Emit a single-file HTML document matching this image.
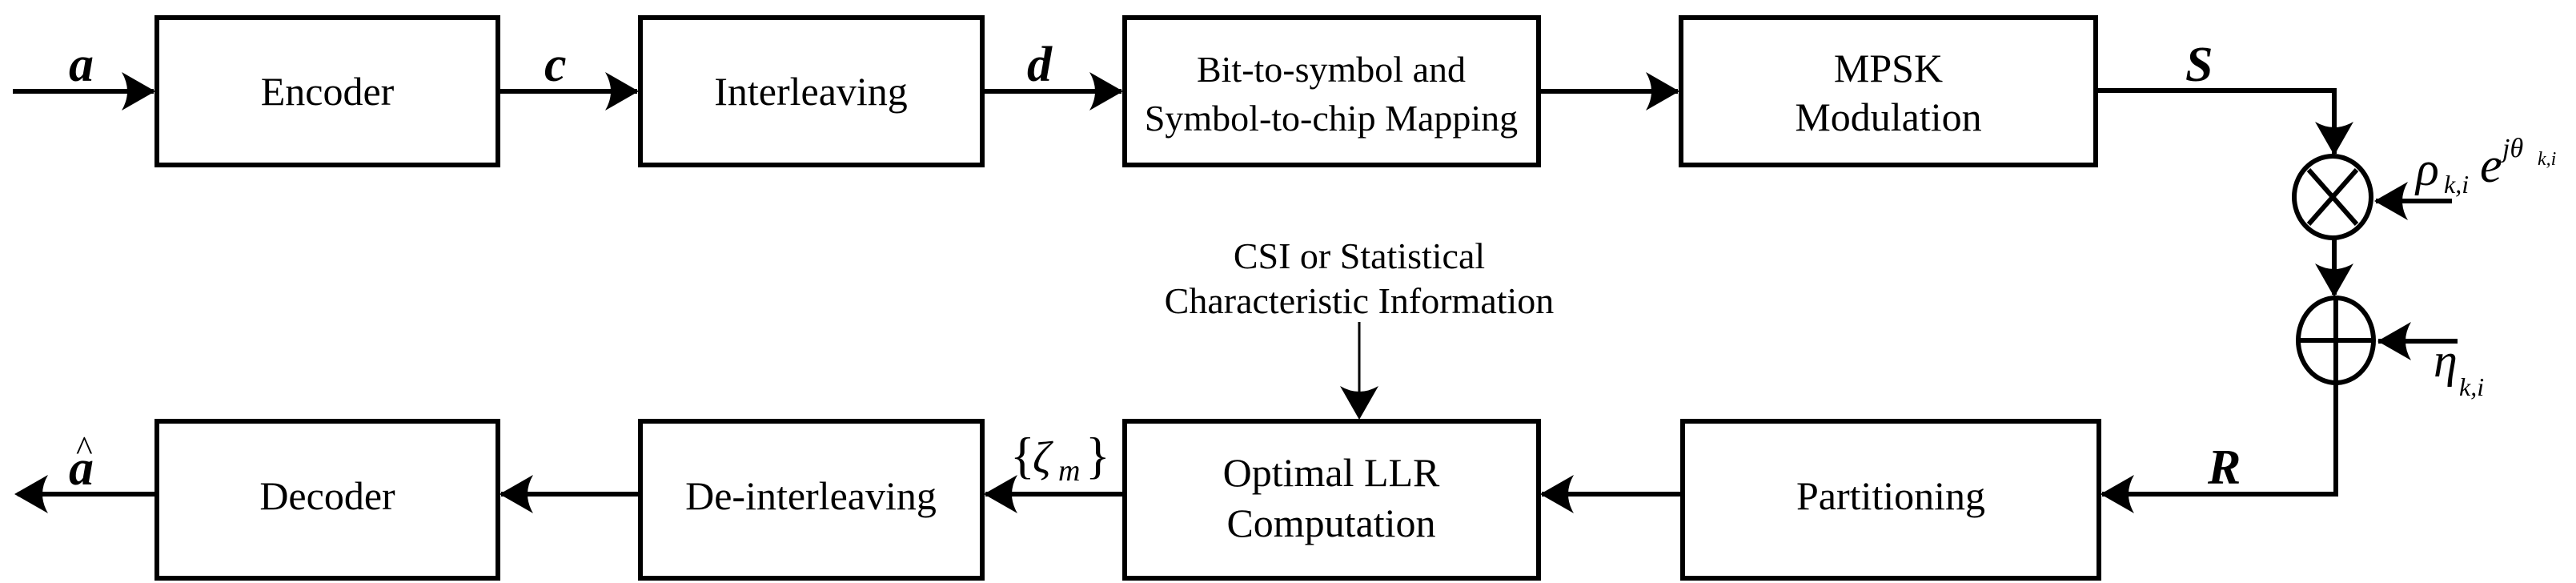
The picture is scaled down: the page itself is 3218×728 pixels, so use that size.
<!DOCTYPE html>
<html><head><meta charset="utf-8"><style>html,body{margin:0;padding:0;background:#fff}svg{display:block}</style></head>
<body>
<svg width="3218" height="728" viewBox="0 0 3218 728" xmlns="http://www.w3.org/2000/svg" font-family="'Liberation Serif', serif">
<defs>
<path id="ah" d="M0,0 L-42,-24 Q-28,0 -42,24 Z" fill="#000"/>
</defs>
<g fill="none" stroke="#000" stroke-width="6">
<rect x="196" y="22" width="426" height="184"/>
<rect x="800" y="22" width="427" height="184"/>
<rect x="1405" y="22" width="517" height="184"/>
<rect x="2100" y="22" width="518" height="184"/>
<rect x="196" y="526" width="426" height="196"/>
<rect x="800" y="526" width="427" height="196"/>
<rect x="1405" y="526" width="517" height="196"/>
<rect x="2102" y="526" width="520" height="196"/>
<!-- top connectors -->
<line x1="16" y1="114" x2="192" y2="114"/>
<line x1="622" y1="114" x2="796" y2="114"/>
<line x1="1227" y1="114" x2="1401" y2="114"/>
<line x1="1922" y1="114" x2="2096" y2="114"/>
<path d="M2618,113 H2916 V192"/>
<line x1="2916" y1="298" x2="2916" y2="368"/>
<path d="M2918,480 V617 H2626"/>
<line x1="2102" y1="617" x2="1926" y2="617"/>
<line x1="1405" y1="617" x2="1231" y2="617"/>
<line x1="800" y1="617" x2="626" y2="617"/>
<line x1="196" y1="617" x2="22" y2="617"/>
<line x1="3063" y1="251" x2="2968" y2="251"/>
<line x1="3070" y1="426" x2="2971" y2="426"/>
<!-- circles -->
<ellipse cx="2914" cy="246" rx="48" ry="51"/>
<line x1="2884" y1="212" x2="2944" y2="280"/>
<line x1="2944" y1="212" x2="2884" y2="280"/>
<ellipse cx="2918" cy="425" rx="47" ry="53"/>
<line x1="2918" y1="375" x2="2918" y2="475"/>
<line x1="2873" y1="425" x2="2963" y2="425"/>
</g>
<line x1="1698" y1="402" x2="1698" y2="500" stroke="#000" stroke-width="3"/>
<!-- arrowheads -->
<use href="#ah" transform="translate(194,114)"/>
<use href="#ah" transform="translate(798,114)"/>
<use href="#ah" transform="translate(1403,114)"/>
<use href="#ah" transform="translate(2098,114)"/>
<use href="#ah" transform="translate(2916,194) rotate(90)"/>
<use href="#ah" transform="translate(2916,371) rotate(90)"/>
<use href="#ah" transform="translate(2966,251) rotate(180)"/>
<use href="#ah" transform="translate(2970,426) rotate(180)"/>
<use href="#ah" transform="translate(2624,617) rotate(180)"/>
<use href="#ah" transform="translate(1924,617) rotate(180)"/>
<use href="#ah" transform="translate(1229,617) rotate(180)"/>
<use href="#ah" transform="translate(624,617) rotate(180)"/>
<use href="#ah" transform="translate(18,617) rotate(180)"/>
<use href="#ah" transform="translate(1698,524) rotate(90)"/>
<!-- box text -->
<g font-size="50" text-anchor="middle" fill="#000">
<text x="409" y="131">Encoder</text>
<text x="1013" y="131">Interleaving</text>
<text x="1663" y="102" font-size="46">Bit-to-symbol and</text>
<text x="1663" y="163" font-size="46">Symbol-to-chip Mapping</text>
<text x="2359" y="102">MPSK</text>
<text x="2359" y="163">Modulation</text>
<text x="409" y="636">Decoder</text>
<text x="1013" y="636">De-interleaving</text>
<text x="1663" y="607">Optimal LLR</text>
<text x="1663" y="670">Computation</text>
<text x="2362" y="636">Partitioning</text>
<text x="1698" y="335" font-size="46">CSI or Statistical</text>
<text x="1698" y="391" font-size="46">Characteristic Information</text>
</g>
<!-- math labels -->
<g font-style="italic" font-weight="bold" font-size="62" fill="#000">
<text x="86" y="101">a</text>
<text x="680" y="101">c</text>
<text x="1283" y="101">d</text>
<text x="2730" y="101">S</text>
<text x="2758" y="604">R</text>
<text x="86" y="605">a</text>
</g>
<text x="95" y="575" font-size="44" fill="#000">^</text>
<g font-style="italic" fill="#000">
<text x="1262" y="590" font-size="64" font-style="normal">{</text>
<text x="1290" y="590" font-size="56">ζ</text>
<text x="1322" y="600" font-size="38">m</text>
<text x="1356" y="590" font-size="64" font-style="normal">}</text>
<text x="3018" y="231" font-size="60">ρ</text>
<text x="3053" y="241" font-size="32">k,i</text>
<text x="3098" y="227" font-size="62">e</text>
<text x="3126" y="196" font-size="34">jθ</text>
<text x="3170" y="206" font-size="24">k,i</text>
<text x="3040" y="470" font-size="60">η</text>
<text x="3072" y="494" font-size="32">k,i</text>
</g>
</svg>
</body></html>
